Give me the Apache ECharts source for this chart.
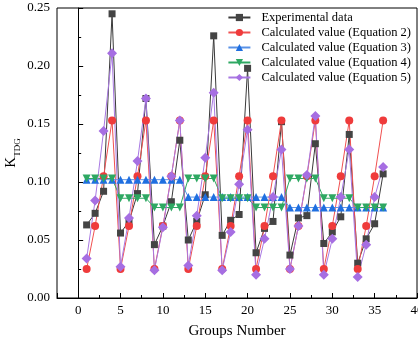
<!DOCTYPE html>
<html>
<head>
<meta charset="utf-8">
<script src="https://cdn.jsdelivr.net/npm/echarts@6/dist/echarts.min.js"></script>
<style>
  html, body { margin: 0; padding: 0; background: #fff; }
  #chart { width: 418px; height: 343px; }
</style>
</head>
<body>
<div id="chart"></div>
<script>
// group numbers (x)
const groups = [1, 2, 3, 4, 5, 6, 7, 8, 9, 10, 11, 12, 13, 14, 15, 16, 17, 18,
  19, 20, 21, 22, 23, 24, 25, 26, 27, 28, 29, 30, 31, 32, 33, 34, 35, 36];

const experimental = [0.063, 0.073, 0.092, 0.245, 0.056, 0.066, 0.090, 0.172,
  0.046, 0.062, 0.083, 0.136, 0.050, 0.066, 0.089, 0.226, 0.054, 0.067, 0.072, 0.198,
  0.039, 0.060, 0.066, 0.152, 0.037, 0.069, 0.071, 0.133, 0.047, 0.057, 0.070, 0.141,
  0.030, 0.051, 0.064, 0.107];

const eq2 = [0.025, 0.062, 0.105, 0.153, 0.025, 0.062, 0.105, 0.153,
  0.025, 0.062, 0.105, 0.153, 0.025, 0.062, 0.105, 0.153, 0.025, 0.062, 0.105, 0.153,
  0.025, 0.062, 0.105, 0.153, 0.025, 0.062, 0.105, 0.153, 0.025, 0.062, 0.105, 0.153,
  0.025, 0.062, 0.105, 0.153];

const eq3 = [0.102, 0.102, 0.102, 0.102, 0.102, 0.102, 0.102, 0.102,
  0.102, 0.102, 0.102, 0.102, 0.087, 0.087, 0.087, 0.087, 0.087, 0.087, 0.087, 0.087,
  0.087, 0.087, 0.087, 0.087, 0.078, 0.078, 0.078, 0.078, 0.078, 0.078, 0.078, 0.078,
  0.078, 0.078, 0.078, 0.078];

const eq4 = [0.103, 0.103, 0.103, 0.103, 0.086, 0.086, 0.086, 0.086,
  0.078, 0.078, 0.078, 0.078, 0.103, 0.103, 0.103, 0.103, 0.086, 0.086, 0.086, 0.086,
  0.078, 0.078, 0.078, 0.078, 0.103, 0.103, 0.103, 0.103, 0.086, 0.086, 0.086, 0.086,
  0.078, 0.078, 0.078, 0.078];

const eq5 = [0.034, 0.084, 0.144, 0.211, 0.027, 0.069, 0.118, 0.172,
  0.024, 0.061, 0.105, 0.153, 0.028, 0.071, 0.121, 0.177, 0.024, 0.057, 0.098, 0.145,
  0.020, 0.051, 0.087, 0.128, 0.025, 0.062, 0.106, 0.157, 0.020, 0.051, 0.087, 0.128,
  0.018, 0.046, 0.087, 0.113];

const legendNames = ['Experimental data', 'Calculated value (Equation 2)',
  'Calculated value (Equation 3)', 'Calculated value (Equation 4)',
  'Calculated value (Equation 5)'];

const font = 'Liberation Serif';
const pairs = vals => groups.map((g, i) => [g, vals[i]]);

const mkSeries = (name, vals, color, lineColor, symbol, size) => ({
  type: 'line',
  name: name,
  data: pairs(vals),
  symbol: symbol,
  symbolSize: size,
  itemStyle: { color: color },
  lineStyle: { color: lineColor, width: 1 },
});

const chart = echarts.init(document.getElementById('chart'));
chart.setOption({
  animation: false,
  textStyle: { fontFamily: font },
  grid: {
    left: 57, right: 1, top: 8, bottom: 45,
    outerBoundsMode: 'none',
    containLabel: false,
    show: true, borderColor: '#000', borderWidth: 1,
  },
  legend: {
    orient: 'vertical',
    right: 2,
    top: 6,
    itemWidth: 22,
    itemHeight: 9,
    itemGap: 2,
    textStyle: { fontFamily: font, fontSize: 12.5, color: '#000', padding: [0, 0, 0, 6] },
    data: legendNames,
  },
  xAxis: {
    type: 'value',
    min: -2.5,
    max: 40,
    splitNumber: 8,
    name: 'Groups Number',
    nameLocation: 'middle',
    nameGap: 26,
    nameMoveOverlap: false,
    nameTextStyle: { fontFamily: font, fontSize: 15, color: '#000' },
    axisLine: { lineStyle: { color: '#000' } },
    axisTick: { inside: true, length: 5, lineStyle: { color: '#000' } },
    minorTick: { show: true, splitNumber: 2, length: 3, lineStyle: { color: '#000' } },
    axisLabel: { showMinLabel: false, fontFamily: font, fontSize: 13, color: '#000', margin: 6 },
    splitLine: { show: false },
  },
  yAxis: {
    type: 'value',
    min: 0,
    max: 0.25,
    interval: 0.05,
    name: '{a|K}{b|TDG}',
    nameLocation: 'middle',
    nameGap: 35,
    nameMoveOverlap: false,
    nameTextStyle: {
      rich: {
        a: { fontFamily: font, fontSize: 15, color: '#000', verticalAlign: 'bottom', padding: [0, 0, 3, 0] },
        b: { fontFamily: font, fontSize: 9, color: '#000', verticalAlign: 'bottom' },
      },
    },
    axisLine: { show: true, lineStyle: { color: '#000' } },
    axisTick: { show: true, inside: true, length: 5, lineStyle: { color: '#000' } },
    minorTick: { show: true, splitNumber: 2, length: 3, lineStyle: { color: '#000' } },
    axisLabel: {
      fontFamily: font, fontSize: 13, color: '#000', margin: 7,
      formatter: v => v.toFixed(2),
    },
    splitLine: { show: false },
  },
  series: [
    mkSeries(legendNames[0], experimental, '#444444', '#3a3a3a', 'rect', 7),
    mkSeries(legendNames[1], eq2, '#ef3b3b', '#f05050', 'circle', 8),
    mkSeries(legendNames[2], eq3, '#1f6fe0', '#5a92e6', 'triangle', 8),
    mkSeries(legendNames[3], eq4, '#2ea862', '#2ea862', 'path://M0,0L10,0L5,9Z', 8),
    mkSeries(legendNames[4], eq5, '#a66ee2', '#a878e2', 'diamond', 10),
  ],
});
</script>
</body>
</html>
